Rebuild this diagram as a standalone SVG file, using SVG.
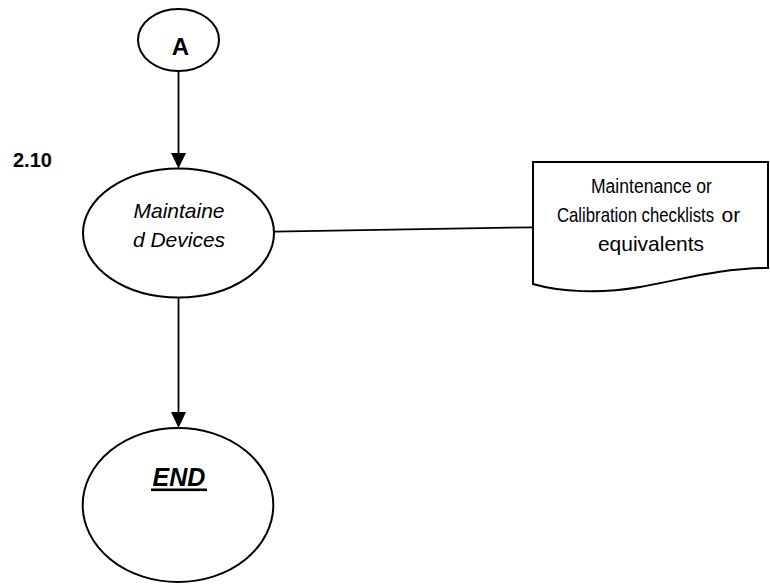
<svg xmlns="http://www.w3.org/2000/svg" width="770" height="584" viewBox="0 0 770 584">
  <style>
    .shape { fill: #fff; stroke: #000; stroke-width: 2; }
    .wire { fill: none; stroke: #000; stroke-width: 1.8; }
    .head { fill: #000; stroke: none; }
    text { font-family: "Liberation Sans", Arial, sans-serif; fill: #000; }
  </style>

  <!-- step label -->
  <text x="13" y="166.5" font-size="20" font-weight="bold">2.10</text>

  <!-- connectors -->
  <g id="connectors">
    <line class="wire" x1="178.5" y1="71" x2="178.5" y2="154"/>
    <polygon class="head" points="171,153 186,153 178.5,168.5"/>
    <line class="wire" x1="178.5" y1="297" x2="178.5" y2="413"/>
    <polygon class="head" points="171,412 186,412 178.5,428"/>
    <line class="wire" x1="274" y1="231.7" x2="533" y2="227.3"/>
  </g>

  <!-- connector A -->
  <g id="node-a">
    <ellipse class="shape" cx="178.5" cy="40" rx="40.5" ry="31"/>
    <text x="180.5" y="55" font-size="24" font-weight="bold" text-anchor="middle">A</text>
  </g>

  <!-- process 2.10 -->
  <g id="node-maintained">
    <ellipse class="shape" cx="178.5" cy="233" rx="95.5" ry="64.5"/>
    <text x="179" y="218.3" font-size="21" font-style="italic" text-anchor="middle">Maintaine</text>
    <text x="179" y="246.7" font-size="21" font-style="italic" text-anchor="middle">d Devices</text>
  </g>

  <!-- records document; first lines set condensed by horizontal scaling -->
  <g id="node-records">
    <path class="shape" d="M533,162 H768 V268 C720,268 680,280 640,287 C600,294 560,292 533,284 Z"/>
    <text transform="translate(591,193.3) scale(0.836,1)" font-size="21">Maintenance or</text>
    <text transform="translate(557,222.3) scale(0.797,1)" font-size="21">Calibration checklists</text>
    <text x="721.5" y="222.3" font-size="21">or</text>
    <text x="651" y="250.7" font-size="21" text-anchor="middle">equivalents</text>
  </g>

  <!-- terminator -->
  <g id="node-end">
    <ellipse class="shape" cx="178" cy="505" rx="95.3" ry="77"/>
    <text x="179" y="486" font-size="25" font-weight="bold" font-style="italic" text-anchor="middle">END</text>
    <rect x="151" y="488.5" width="56" height="2.6" fill="#000"/>
  </g>
</svg>
